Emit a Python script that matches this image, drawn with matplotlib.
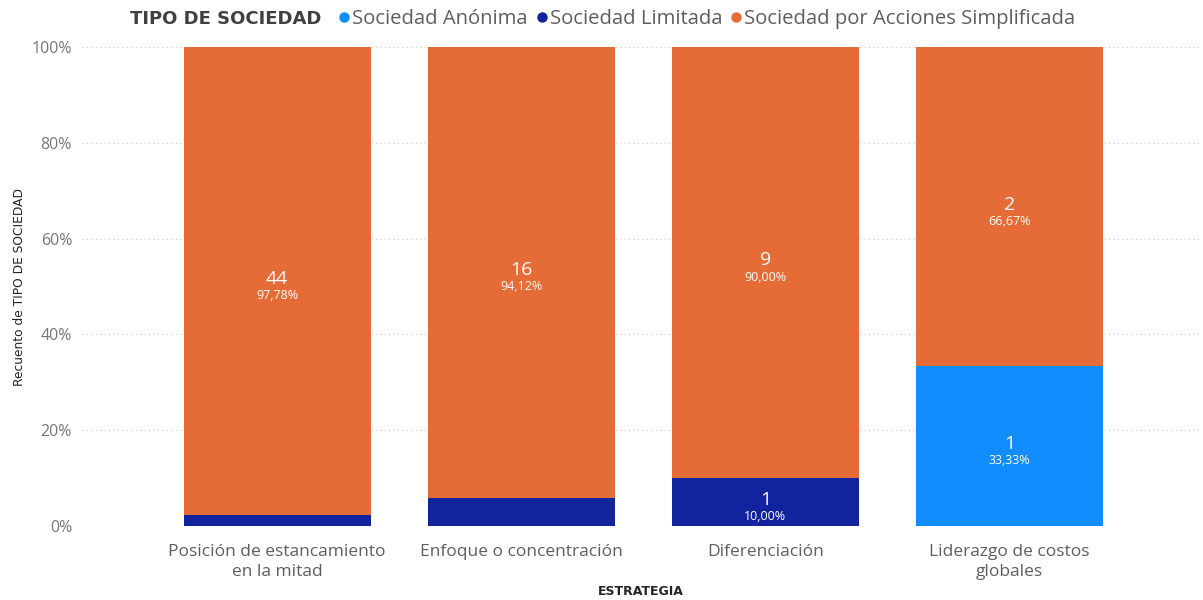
import matplotlib
matplotlib.use("Agg")
import matplotlib.pyplot as plt
from matplotlib.lines import Line2D
import numpy as np

# conteo de empresas por estrategia y tipo de sociedad
estrategias = ["Posición de estancamiento\nen la mitad", "Enfoque o concentración",
               "Diferenciación", "Liderazgo de costos\nglobales"]
tipos = ["Sociedad Anónima", "Sociedad Limitada", "Sociedad por Acciones Simplificada"]
sa = [0, 0, 0, 1]
sl = [1, 1, 1, 0]
sas = [44, 16, 9, 2]
colores = ["#118DFF", "#12239E", "#E66C37"]

BODY = ["Open Sans", "DejaVu Sans"]
TITLE = ["DejaVu Sans"]

conteos = np.array([sa, sl, sas], dtype=float)
totales = conteos.sum(axis=0)
pct = conteos / totales * 100

fig = plt.figure(figsize=(12.03, 6.0), dpi=100)
ax = fig.add_axes([0.068, 0.1233, 0.9295, 0.7984])

x = np.arange(len(estrategias))
ancho = 0.765
base = np.zeros(len(estrategias))
for i, tipo in enumerate(tipos):
    ax.bar(x, pct[i], ancho, bottom=base, color=colores[i], zorder=2, label=tipo)
    for j in range(len(estrategias)):
        # solo se rotulan los segmentos con altura suficiente
        if pct[i, j] >= 8:
            yc = base[j] + pct[i, j] / 2
            ax.annotate(f"{int(conteos[i, j])}", (x[j], yc), xytext=(0, 1.5),
                        textcoords="offset points", ha="center", va="center",
                        color="white", fontsize=14, family=BODY, zorder=3)
            ax.annotate(f"{pct[i, j]:.2f}".replace(".", ",") + "%", (x[j], yc),
                        xytext=(0, -10.5), textcoords="offset points", ha="center",
                        va="center", color="white", fontsize=9, family=BODY, zorder=3)
    base += pct[i]

ax.set_xlim(-0.8, 3.78)
ax.set_ylim(0, 100)
ax.set_yticks(np.arange(0, 101, 20))
ax.set_yticklabels([f"{v}%" for v in range(0, 101, 20)])
ax.yaxis.grid(True, linestyle=(0, (1, 3)), color="#C8C8C8", linewidth=0.8, zorder=0)
ax.set_xticks(x)
ax.set_xticklabels(estrategias, family=BODY, fontsize=12.5, color="#605E5C",
                   linespacing=1.3)
for lbl in ax.get_yticklabels():
    lbl.set_family(BODY)
    lbl.set_fontsize(11.5)
    lbl.set_color("#777777")
ax.tick_params(length=0)
ax.tick_params(axis="x", pad=13)
ax.tick_params(axis="y", pad=7)
for s in ax.spines.values():
    s.set_visible(False)

ax.set_xlabel("ESTRATEGIA", family=TITLE, fontsize=9, color="#252423",
              fontweight="bold", labelpad=4)
ax.set_ylabel("Recuento de TIPO DE SOCIEDAD", family=TITLE, fontsize=8.8,
              color="#252423", labelpad=4)

fig.text(0.108, 0.968, "TIPO DE SOCIEDAD", family=TITLE, fontsize=13,
         fontweight="bold", color="#404040", va="center")
handles = [Line2D([], [], marker="o", linestyle="", color=c, markersize=6.5)
           for c in colores]
fig.legend(handles, tipos, loc="center left", bbox_to_anchor=(0.279, 0.968),
           ncol=3, frameon=False, handletextpad=0.0, columnspacing=0.3,
           handlelength=0.8, borderpad=0, borderaxespad=0,
           prop={"family": BODY, "size": 14.6}, labelcolor="#605E5C")

fig.savefig("out.png", dpi=100)
